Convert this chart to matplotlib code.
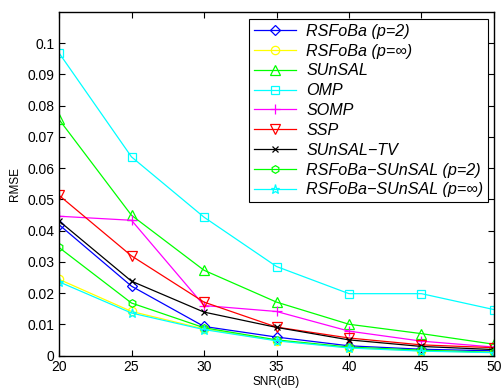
import matplotlib
matplotlib.use("Agg")
import matplotlib.pyplot as plt
from matplotlib.ticker import MultipleLocator

snr = [20, 25, 30, 35, 40, 45, 50]
rsfoba_p2 = [0.0419, 0.0222, 0.0093, 0.0059, 0.0031, 0.0020, 0.0015]
rsfoba_pinf = [0.0244, 0.0141, 0.0085, 0.0048, 0.0025, 0.0015, 0.0010]
sunsal = [0.0756, 0.0449, 0.0273, 0.0171, 0.0100, 0.0070, 0.0036]
omp = [0.0969, 0.0636, 0.0443, 0.0285, 0.0198, 0.0198, 0.0147]
somp = [0.0446, 0.0433, 0.0160, 0.0141, 0.0078, 0.0046, 0.0027]
ssp = [0.0513, 0.0319, 0.0171, 0.0091, 0.0056, 0.0034, 0.0025]
sunsal_tv = [0.0431, 0.0238, 0.0139, 0.0090, 0.0050, 0.0029, 0.0019]
rs_sunsal_p2 = [0.0346, 0.0168, 0.0089, 0.0050, 0.0027, 0.0017, 0.0010]
rs_sunsal_pinf = [0.0236, 0.0136, 0.0083, 0.0047, 0.0024, 0.0014, 0.0009]

labels = ["RSFoBa (p=2)", "RSFoBa (p=\u221e)", "SUnSAL", "OMP", "SOMP", "SSP",
          "SUnSAL\u2212TV", "RSFoBa\u2212SUnSAL (p=2)", "RSFoBa\u2212SUnSAL (p=\u221e)"]

plt.rcParams['font.family'] = ['Liberation Sans', 'DejaVu Sans']

fig = plt.figure(figsize=(5.02, 3.89), dpi=100)
ax = fig.add_axes([59/502, 1-355.5/389, (494-59)/502, (355.5-12)/389])

series = [rsfoba_p2, rsfoba_pinf, sunsal, omp, somp, ssp, sunsal_tv, rs_sunsal_p2, rs_sunsal_pinf]
colors = ['#0000ff', '#ffff00', '#00ff00', '#00ffff', '#ff00ff', '#ff0000', '#000000', '#00ff00', '#00ffff']
markers = ['D', 'o', '^', 's', '+', 'v', 'x', 'h', '*']
sizes = [5, 6, 6.5, 5.5, 7, 6.5, 4.5, 5.5, 6.5]

for ys, c, m, ms, lab in zip(series, colors, markers, sizes, labels):
    ax.plot(snr, ys, color=c, marker=m, markersize=ms, markerfacecolor='none',
            markeredgecolor=c, linewidth=0.9, markeredgewidth=0.9, label=lab)

ax.set_xlim(20, 50)
ax.set_ylim(0, 0.11)
ax.xaxis.set_major_locator(MultipleLocator(5))
ax.set_yticks([0, 0.01, 0.02, 0.03, 0.04, 0.05, 0.06, 0.07, 0.08, 0.09, 0.1])
ax.set_yticklabels(['0', '0.01', '0.02', '0.03', '0.04', '0.05', '0.06', '0.07', '0.08', '0.09', '0.1'])
ax.tick_params(direction='in', top=True, right=True, labelsize=10, length=4, width=0.8)
for s in ax.spines.values():
    s.set_linewidth(1.0)

ax.set_xlabel('SNR(dB)', fontsize=8.5, labelpad=1)
ax.set_ylabel('RMSE', fontsize=8.5, labelpad=4)

leg = ax.legend(loc='upper right', bbox_to_anchor=(0.987, 0.98), prop={'style': 'italic', 'size': 11.6},
                frameon=True, fancybox=False, edgecolor='black', framealpha=1,
                handlelength=2.6, labelspacing=0.3, borderpad=0.3, handletextpad=0.65, borderaxespad=0)
leg.get_frame().set_linewidth(0.8)

fig.savefig('out.png', dpi=100)
